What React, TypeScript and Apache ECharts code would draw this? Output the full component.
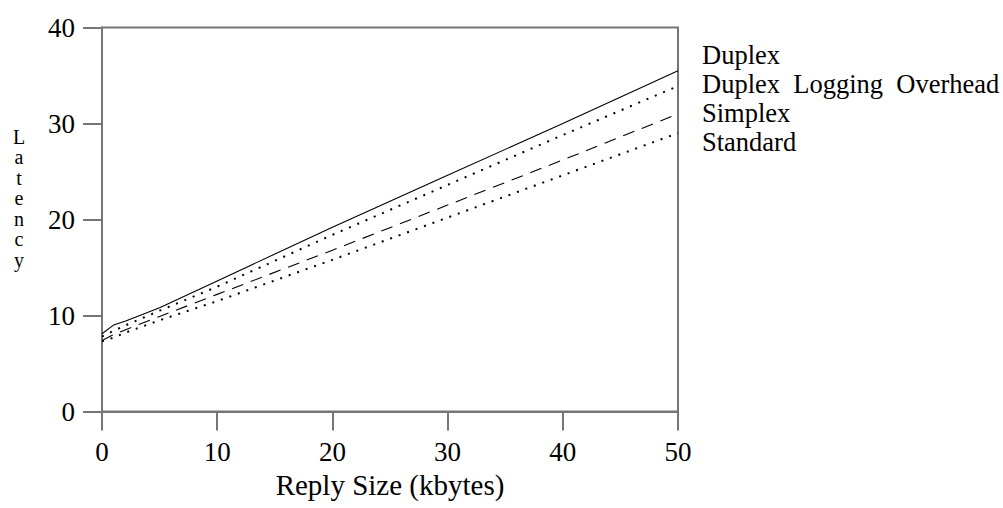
import React, { useEffect, useRef } from "react";
import * as echarts from "echarts";

// Reply size in kbytes (x) and latency for each configuration (y)
const replySize = [0, 1, 2, 5, 10, 20, 30, 40, 50];
const duplex = [8.1, 9.0, 9.4, 10.8, 13.6, 19.2, 24.6, 30.0, 35.5];
const duplexLogging = [7.8, 8.4, 8.95, 10.5, 13.0, 18.4, 23.6, 28.8, 33.9];
const simplex = [7.4, 8.0, 8.5, 9.9, 12.2, 16.8, 21.5, 26.2, 31.0];
const standard = [7.3, 7.7, 8.2, 9.5, 11.5, 15.8, 20.2, 24.6, 29.0];

const seriesNames = ["Duplex", "Duplex  Logging  Overhead", "Simplex", "Standard"];
const xTicks = [0, 10, 20, 30, 40, 50];
const yTicks = [0, 10, 20, 30, 40];

const FONT = "'Liberation Serif', 'Times New Roman', serif";
const AXIS_GRAY = "#767676";

export default function App() {
  const ref = useRef<HTMLDivElement>(null);

  useEffect(() => {
    if (!ref.current) return;
    const chart = echarts.init(ref.current, undefined, { renderer: "svg" });

    const pairs = (ys: number[]) => replySize.map((x, i) => [x, ys[i]]);
    const lineSeries = (name: string, ys: number[], type: any, width: number) => ({
      name,
      type: "line",
      data: pairs(ys),
      showSymbol: false,
      symbol: "none",
      lineStyle: { color: "#000", width, type, cap: "butt" },
      itemStyle: { color: "#000" },
      emphasis: { disabled: true },
    });

    chart.setOption({
      animation: false,
      backgroundColor: "#fff",
      textStyle: { fontFamily: FONT },
      grid: {
        left: 102,
        top: 27.5,
        width: 576,
        height: 384,
        show: true,
        borderColor: AXIS_GRAY,
        borderWidth: 2,
        backgroundColor: "transparent",
      },
      xAxis: {
        type: "value",
        min: xTicks[0],
        max: xTicks[xTicks.length - 1],
        interval: 10,
        name: "Reply Size (kbytes)",
        nameLocation: "middle",
        nameGap: 58,
        nameTextStyle: { fontFamily: FONT, fontSize: 29, color: "#000" },
        axisLine: { show: true, lineStyle: { color: AXIS_GRAY, width: 2 } },
        axisTick: { show: true, inside: false, length: 19, lineStyle: { color: AXIS_GRAY, width: 2 } },
        axisLabel: { fontFamily: FONT, fontSize: 27, color: "#000", margin: 27 },
        splitLine: { show: false },
      },
      yAxis: {
        type: "value",
        min: yTicks[0],
        max: yTicks[yTicks.length - 1],
        interval: 10,
        axisLine: { show: true, lineStyle: { color: AXIS_GRAY, width: 2 } },
        axisTick: { show: true, inside: false, length: 19, lineStyle: { color: AXIS_GRAY, width: 2 } },
        axisLabel: { fontFamily: FONT, fontSize: 27, color: "#000", margin: 27 },
        splitLine: { show: false },
      },
      legend: {
        show: true,
        orient: "vertical",
        left: 697,
        top: 40,
        padding: 0,
        itemGap: 0,
        itemWidth: 0,
        itemHeight: 0,
        icon: "none",
        selectedMode: false,
        data: seriesNames,
        textStyle: { fontFamily: FONT, fontSize: 26.5, color: "#000", lineHeight: 29 },
      },
      graphic: [
        {
          // vertical axis title, one letter per line
          type: "text",
          x: 19,
          y: 198,
          style: {
            text: "L\na\nt\ne\nn\nc\ny",
            fontFamily: FONT,
            fontSize: 20,
            lineHeight: 20.5,
            fill: "#000",
            align: "center",
            verticalAlign: "middle",
          },
        },
      ],
      series: [
        lineSeries(seriesNames[0], duplex, "solid", 1.1),
        lineSeries(seriesNames[1], duplexLogging, [2, 7], 2),
        lineSeries(seriesNames[2], simplex, [12, 8], 1.1),
        lineSeries(seriesNames[3], standard, [2, 7], 2),
      ],
    });

    return () => chart.dispose();
  }, []);

  return (
    <div
      ref={ref}
      style={{ position: "absolute", left: 0, top: 0, width: 1003, height: 508, background: "#fff" }}
    />
  );
}
